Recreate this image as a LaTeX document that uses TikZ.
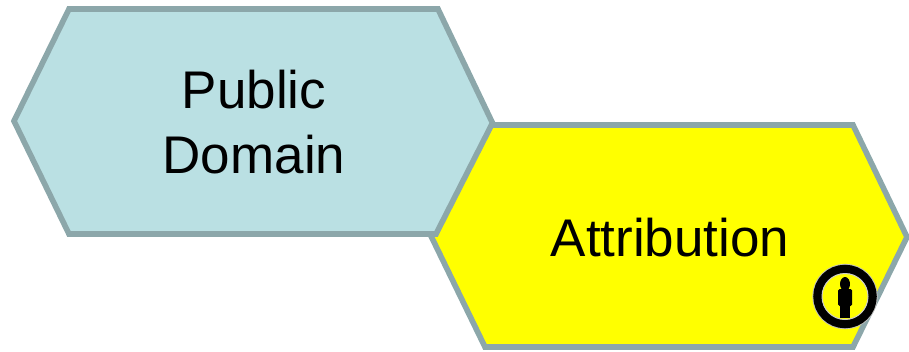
\documentclass[tikz,border=0pt]{standalone}
\usepackage{fontspec}
\setmainfont{Liberation Sans}
\definecolor{edgegray}{HTML}{8CA7AA}
\definecolor{paleblue}{HTML}{BAE0E3}
\definecolor{hexyellow}{HTML}{FFFF00}
\tikzset{
  hexa/.style={draw=edgegray,line width=5.6pt,line join=miter,miter limit=10},
  lbl/.style={font=\fontsize{53}{65}\selectfont,align=center,inner sep=0pt,text=black}
}
\begin{document}
\begin{tikzpicture}[x=1pt,y=-1pt]
\useasboundingbox (0,0) rectangle (909,351);
\draw[hexa,fill=hexyellow] (491,125) -- (853,125) -- (907,237) -- (853,347) -- (485,347) -- (431,236) -- cycle;
\draw[hexa,fill=paleblue] (14,121) -- (69,9) -- (438,9) -- (492.5,123) -- (436,234) -- (69,234) -- cycle;
\node[lbl] (pd) at (254,122) {Public\\Domain};
\node[lbl] (at) at (670,238) {Attribution};
% attribution badge
\draw[gray!50,line width=1.2pt] (845,296.5) circle (32);
\draw[black,line width=8.5pt] (845,296.5) circle (27.5);
\draw[gray!40,line width=1pt] (845,296.5) circle (23);
\fill[black] (845,284) ellipse (5 and 7);
\fill[black,rounded corners=1.5pt] (838,289) rectangle (852,306);
\fill[black] (840,304) rectangle (850,318);
\end{tikzpicture}
\end{document}
